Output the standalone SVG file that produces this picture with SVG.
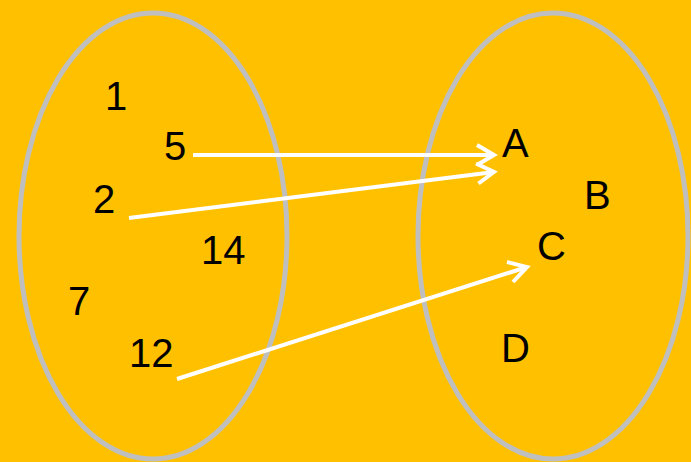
<svg xmlns="http://www.w3.org/2000/svg" width="691" height="462" viewBox="0 0 691 462">
<style>
.set{fill:none;stroke:#BFBFBF;stroke-width:5}
.lbl{font-family:"Liberation Sans",Arial,sans-serif;font-size:40px;fill:#000}
.arr{fill:none;stroke:#FFFFFF;stroke-width:4;stroke-linecap:butt}
.head{fill:none;stroke:#FFFFFF;stroke-width:4;stroke-linejoin:miter}
</style>
<rect width="691" height="462" fill="#FFC000"/>
<g id="setX">
<ellipse class="set" cx="153" cy="236" rx="134" ry="223"/>
</g>
<g id="setY">
<ellipse class="set" cx="553" cy="236" rx="135" ry="223"/>
</g>
<g id="n1"><text class="lbl" x="105" y="110">1</text></g>
<g id="n5"><text class="lbl" x="164" y="160">5</text></g>
<g id="n2"><text class="lbl" x="93" y="213">2</text></g>
<g id="n14"><text class="lbl" x="201" y="264">14</text></g>
<g id="n7"><text class="lbl" x="68" y="315">7</text></g>
<g id="n12"><text class="lbl" x="129" y="367">12</text></g>
<g id="nA"><text class="lbl" x="502" y="157">A</text></g>
<g id="nB"><text class="lbl" x="584" y="209">B</text></g>
<g id="nC"><text class="lbl" x="537" y="260">C</text></g>
<g id="nD"><text class="lbl" x="501" y="362">D</text></g>
<g id="connectors">
<line class="arr" x1="193" y1="155" x2="494" y2="155"/>
<polyline class="head" points="477,145 494,155 477,165"/>
<line class="arr" x1="129" y1="218" x2="494" y2="172"/>
<polyline class="head" points="476,163.5 494,172 478.5,183.5"/>
<line class="arr" x1="177" y1="379" x2="527" y2="267"/>
<polyline class="head" points="507,262 527,267 513,282"/>
</g>
</svg>
